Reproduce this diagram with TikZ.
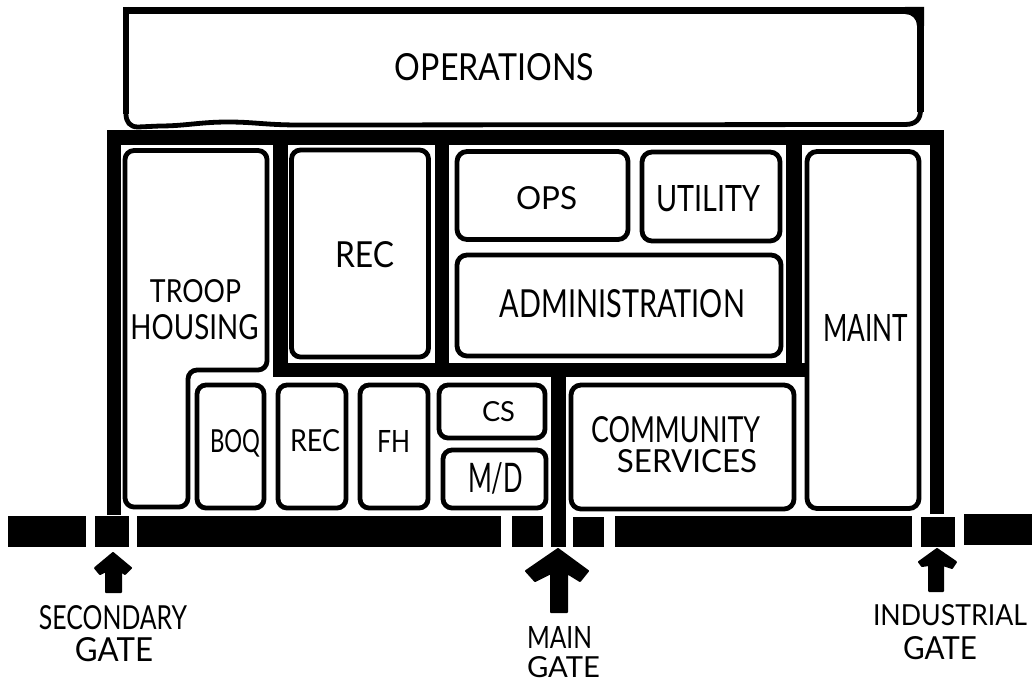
\documentclass[tikz,border=0pt]{standalone}
\usepackage{fontspec}
\usepackage{graphicx}
\setmainfont{Lato}
\newcommand{\lab}[6]{\node[inner sep=0pt,outer sep=0pt] (#1) at (#2,#3) {\resizebox{#4pt}{#5pt}{#6}};}
\newcommand{\zn}[6]{\node[zonebox,rounded corners=#6 pt,minimum width=#4 pt,minimum height=#5 pt] (#1) at (#2,#3) {};}
\tikzset{
  zonebox/.style={draw=black,fill=white,line width=4.8pt,inner sep=0pt,outer sep=0pt},
  zoneline/.style={draw=black,fill=white,line width=4.8pt,line join=round},
  heavyline/.style={draw=black,line width=6.8pt},
  road/.style={fill=black,draw=none},
  gatearrow/.style={fill=black,draw=black,line width=2pt,line join=round}
}
\begin{document}
\begin{tikzpicture}[x=1pt,y=-1pt]
\useasboundingbox (0,0) rectangle (1032,685);
% roads
\fill[road] (107,130) rectangle (944,145);
\fill[road] (107,130) rectangle (121,515);
\fill[road] (930,130) rectangle (944,514);
\fill[road] (273,145) rectangle (288,377);
\fill[road] (435,145) rectangle (449,377);
\fill[road] (786,145) rectangle (802,377);
\fill[road] (273,363) rectangle (806,377);
\fill[road] (551,377) rectangle (566,547);
% bottom bar
\fill[road] (8,516) rectangle (86,547);
\fill[road] (95,516) rectangle (129,547);
\fill[road] (137,516) rectangle (501,547);
\fill[road] (512,516) rectangle (543,547);
\fill[road] (573,517) rectangle (604,547);
\fill[road] (615,516) rectangle (912,547);
\fill[road] (921,517) rectangle (955,547);
\fill[road] (964,514) rectangle (1032,545);
% operations
\draw[zoneline] (126,10.5) -- (908,10.5) .. controls (916,10.5) and (920.5,15) .. (920.5,24) -- (920.5,110)
  .. controls (920.5,119) and (916,124.5) .. (905,124.5) -- (300,125)
  .. controls (265,125) and (255,122) .. (228,122) .. controls (200,122) and (185,126) .. (160,126)
  -- (138,127) .. controls (130,127) and (126,122) .. (126,114) -- cycle;
\draw[heavyline] (123,10.5) -- (920,10.5);
\draw[heavyline] (126,7) -- (126,114);
\draw[heavyline] (920.5,24) -- (920.5,112);
\fill[black] (905,7) -- (924,7) -- (924,26) -- (917,26) .. controls (917,19) and (912,14) .. (905,14) -- cycle;
% troop housing
\draw[zoneline,rounded corners=9pt] (125,150.5) -- (267,150.5) -- (267,370) -- (188,370) -- (188,507) -- (125,507) -- cycle;
% zones
\zn{rec}{360}{253.5}{137}{207}{9}
\zn{ops}{542.5}{195.5}{171}{88}{10}
\zn{utility}{711}{196.5}{138}{89}{10}
\zn{admin}{619}{305.5}{324}{101}{10}
\zn{maint}{863}{330}{112}{357}{10}
\zn{boq}{230.5}{446.5}{67}{123}{9}
\zn{recb}{312}{446.5}{68}{123}{9}
\zn{fh}{394}{446.5}{68}{123}{9}
\zn{cs}{492}{411.5}{106}{53}{9}
\zn{md}{494.5}{479}{103}{58}{9}
\zn{comm}{682.5}{447}{223}{124}{10}
% labels
\lab{lops}{494.5}{67}{199}{27}{OPERATIONS}
\lab{lrec}{364.5}{255}{59}{26}{REC}
\lab{lopsb}{546.5}{198}{61}{23}{OPS}
\lab{lut}{708}{198.5}{104}{26}{UTILITY}
\lab{ladm}{622.5}{303.5}{245}{28}{ADMINISTRATION}
\lab{ltroop}{195.5}{291}{91}{23}{TROOP}
\lab{lhous}{194.5}{327}{128}{25}{HOUSING}
\lab{lmaint}{865.5}{328}{85}{27}{MAINT}
\lab{lboq}{235}{443.5}{50}{23}{BOQ}
\lab{lrecb}{315}{441}{50}{22}{REC}
\lab{lfh}{393.5}{441}{33}{22}{FH}
\lab{lcs}{498.5}{412}{33}{20}{CS}
\lab{lmd}{495.5}{478}{55}{30}{M/D}
\lab{lcomm}{675.5}{430}{169}{26}{COMMUNITY}
\lab{lserv}{687}{461.5}{140}{23}{SERVICES}
\lab{lsec}{113}{617.5}{148}{24}{SECONDARY}
\lab{lgate}{114}{650}{78}{24}{GATE}
\lab{lmain}{559.5}{637}{65}{22}{MAIN}
\lab{lgateb}{563.5}{667}{73}{21}{GATE}
\lab{lind}{950}{615}{154}{21}{INDUSTRIAL}
\lab{lgatec}{940}{648.5}{74}{23}{GATE}
% arrows
\filldraw[gatearrow] (113,553) -- (131,568) -- (125,574) -- (121,571) -- (121,592) -- (106,592) -- (106,571) -- (100,574) -- (95,568) -- cycle;
\filldraw[gatearrow] (558,549) -- (588,571) -- (580,581) -- (567,573) -- (567,612) -- (551,612) -- (551,573) -- (535,581) -- (526,571) -- cycle;
\filldraw[gatearrow] (937,549) -- (956,562) -- (952,568) -- (943,565) -- (943,591) -- (929,591) -- (929,565) -- (922,566) -- (919,562) -- cycle;
\end{tikzpicture}
\end{document}
